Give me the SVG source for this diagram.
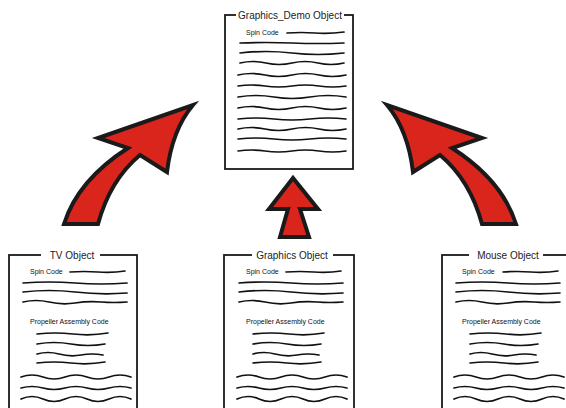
<svg xmlns="http://www.w3.org/2000/svg" xmlns:xlink="http://www.w3.org/1999/xlink" width="566" height="408" viewBox="0 0 566 408">
<style>
.box{fill:#fff;stroke:#1a1a1a;stroke-width:1.8}
.gap{fill:#fff;stroke:none}
.title{font-family:"Liberation Sans",Arial,sans-serif;font-size:10px;fill:#222;text-anchor:middle}
.small{font-family:"Liberation Sans",Arial,sans-serif;font-size:7px;fill:#111}
.ln{fill:none;stroke:#111;stroke-width:1.7;stroke-linecap:round}
.arrow{fill:#da251d;stroke:#1a1a1a;stroke-width:4;stroke-linejoin:miter}
</style>
<defs>
<g id="codeLines">
<path class="ln" d="M70,272 q14,-1 28,0 t27,-1"/>
<path class="ln" d="M23,283 q26,-2 52,0 t52,0"/>
<path class="ln" d="M23,292 q26,-3 52,0 t52,1"/>
<path class="ln" d="M23,302 q13,-3 26,0 t26,1 t26,-1 t26,0"/>
<path class="ln" d="M37,334 q18,-2 36,0 t35,-1"/>
<path class="ln" d="M37,344 q17,-3 34,0 t34,0"/>
<path class="ln" d="M37,354 q11,-3 22,0 t22,1 t22,0"/>
<path class="ln" d="M37,363 q17,-2 34,0 t34,-1"/>
<path class="ln" d="M21,377 q11,-4 22,0 t22,0 t22,0 t22,0 t22,0"/>
<path class="ln" d="M21,388 q11,-3 22,0 t22,0 t22,0 t22,0 t22,0"/>
<path class="ln" d="M21,399 q11,-5 22,0 t22,0 t22,0 t22,0 t22,0"/>
</g>
</defs>

<g id="connectors">
<g id="arrow-left">
<path class="arrow" d="M64,224 Q78,180 128,148 L98,138 L193,105 Q172,130 167,172 L140,155 Q110,180 98,224 Z"/>
</g>
<g id="arrow-right" transform="translate(580,0) scale(-1,1)">
<path class="arrow" d="M64,224 Q78,180 128,148 L98,138 L193,105 Q172,130 167,172 L140,155 Q110,180 98,224 Z"/>
</g>
<g id="arrow-center">
<path class="arrow" d="M280,237 L288,209 L269,209 L293,178 L318,209 L300,209 L309,237 Z"/>
</g>
</g>

<g id="graphics-demo">
<rect class="box" x="225" y="15" width="128" height="154"/>
<rect class="gap" x="236" y="8" width="108" height="12"/>
<text class="title" x="290" y="19">Graphics_Demo Object</text>
<text class="small" x="246" y="35">Spin Code</text>
<path class="ln" d="M287,33 q14,-1 28,0 t29,-1"/>
<path class="ln" d="M240,43 q26,-1 52,0 t52,0"/>
<path class="ln" d="M240,53 q26,-3 52,0 t52,0"/>
<path class="ln" d="M240,63 q13,-3 26,0 t26,0 t26,0 t26,0"/>
<path class="ln" d="M238,75 q13.5,-3 27,0 t27,0 t27,0 t27,0"/>
<path class="ln" d="M238,86 q13.5,-2 27,0 t27,0 t27,0 t27,0"/>
<path class="ln" d="M238,97 q18,-3 36,0 t36,0 t36,0"/>
<path class="ln" d="M238,108 q13.5,-3 27,0 t27,0 t27,0 t27,0"/>
<path class="ln" d="M238,119 q18,-2 36,0 t36,0 t36,0"/>
<path class="ln" d="M238,129 q13.5,-3 27,0 t27,0 t27,0 t27,0"/>
<path class="ln" d="M238,139 q18,-2 36,0 t36,0 t36,0"/>
<path class="ln" d="M238,151 q13.5,-2 27,0 t27,0 t27,0 t27,0"/>
</g>

<g id="tv-object">
<rect class="box" x="9" y="255" width="128" height="160"/>
<rect class="gap" x="41" y="248" width="59" height="12"/>
<text class="title" x="72" y="259">TV Object</text>
<text class="small" x="30" y="274">Spin Code</text>
<text class="small" x="30" y="324">Propeller Assembly Code</text>
<use xlink:href="#codeLines"/>
</g>

<g id="graphics-object">
<rect class="box" x="224" y="255" width="130" height="160"/>
<rect class="gap" x="252" y="248" width="81" height="12"/>
<text class="title" x="292" y="259">Graphics Object</text>
<text class="small" x="246" y="274">Spin Code</text>
<text class="small" x="246" y="324">Propeller Assembly Code</text>
<use xlink:href="#codeLines" transform="translate(216,0)"/>
</g>

<g id="mouse-object">
<rect class="box" x="442" y="255" width="130" height="160"/>
<rect class="gap" x="469" y="248" width="74" height="12"/>
<text class="title" x="508" y="259">Mouse Object</text>
<text class="small" x="462" y="274">Spin Code</text>
<text class="small" x="462" y="324">Propeller Assembly Code</text>
<use xlink:href="#codeLines" transform="translate(433,0)"/>
</g>
</svg>
